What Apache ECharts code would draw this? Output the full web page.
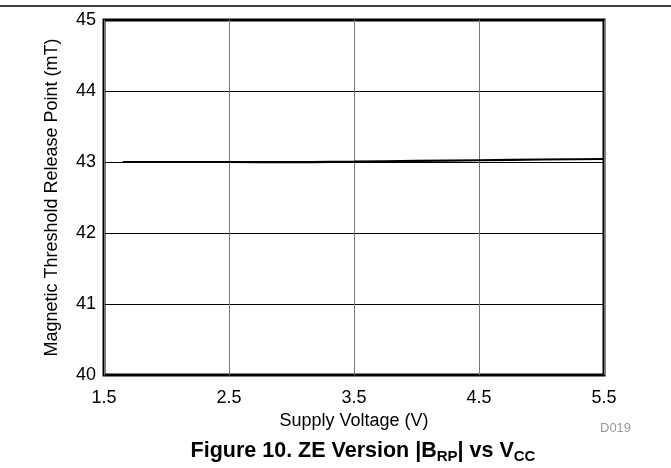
<!DOCTYPE html>
<html><head><meta charset="utf-8">
<script src="https://cdn.jsdelivr.net/npm/echarts@6/dist/echarts.min.js"></script>
<style>html,body{margin:0;padding:0;background:#fff}#c{width:671px;height:468px}</style>
</head><body><div id="c"></div>
<script>
var voltage = [1.65, 2.0, 2.5, 3.0, 3.5, 4.0, 4.5, 5.0, 5.5];
var releasePoint = [43.0, 43.0, 43.0, 42.997, 43.005, 43.015, 43.025, 43.035, 43.042];
var xTicks = [1.5, 2.5, 3.5, 4.5, 5.5];
var yTicks = [40, 41, 42, 43, 44, 45];

var F = '"Liberation Sans", Arial, sans-serif';
var chart = echarts.init(document.getElementById('c'));
chart.setOption({
  animation: false,
  grid: {left: 104, right: 67, top: 20, bottom: 93, show: true, borderColor: '#000', borderWidth: 3, backgroundColor: 'transparent'},
  title: {
    text: '{b|Figure 10. ZE Version |B}{s|RP}{b|| vs V}{s|CC}',
    left: 363, top: 439, textAlign: 'center', padding: 0,
    textStyle: {rich: {
      b: {fontFamily: F, fontWeight: 'bold', fontSize: 21.5, color: '#000'},
      s: {fontFamily: F, fontWeight: 'bold', fontSize: 15, color: '#000', padding: [10, 0, 0, 0]}
    }}
  },
  graphic: [
    {type: 'line', shape: {x1: 0, y1: 6, x2: 671, y2: 6}, style: {stroke: '#000', lineWidth: 1.5}},
    {type: 'text', left: 600, top: 422, style: {text: 'D019', fontFamily: F, fontSize: 13, fill: '#999'}}
  ],
  xAxis: {
    type: 'value', min: 1.5, max: 5.5, interval: 1,
    name: 'Supply Voltage (V)', nameLocation: 'middle', nameGap: 26,
    nameTextStyle: {fontFamily: F, fontSize: 18, color: '#000'},
    axisLine: {show: false}, axisTick: {show: false},
    axisLabel: {fontFamily: F, fontSize: 18, color: '#000', margin: 14,
      formatter: function(v){ return xTicks.indexOf(+v.toFixed(1)) >= 0 ? v.toFixed(1) : ''; }},
    splitLine: {show: true, lineStyle: {color: '#777', width: 1}}
  },
  yAxis: {
    type: 'value', min: 40, max: 45, interval: 1,
    name: 'Magnetic Threshold Release Point (mT)', nameLocation: 'middle', nameGap: 43,
    nameTextStyle: {fontFamily: F, fontSize: 18, color: '#000'},
    axisLine: {show: false}, axisTick: {show: false},
    axisLabel: {fontFamily: F, fontSize: 18, color: '#000', margin: 8,
      formatter: function(v){ return yTicks.indexOf(v) >= 0 ? String(v) : ''; }},
    splitLine: {show: true, lineStyle: {color: '#000', width: 1}}
  },
  series: [{
    type: 'line', showSymbol: false, smooth: true,
    data: voltage.map(function(v, i){ return [v, releasePoint[i]]; }),
    lineStyle: {color: '#000', width: 2.2}
  }]
});
</script></body></html>
